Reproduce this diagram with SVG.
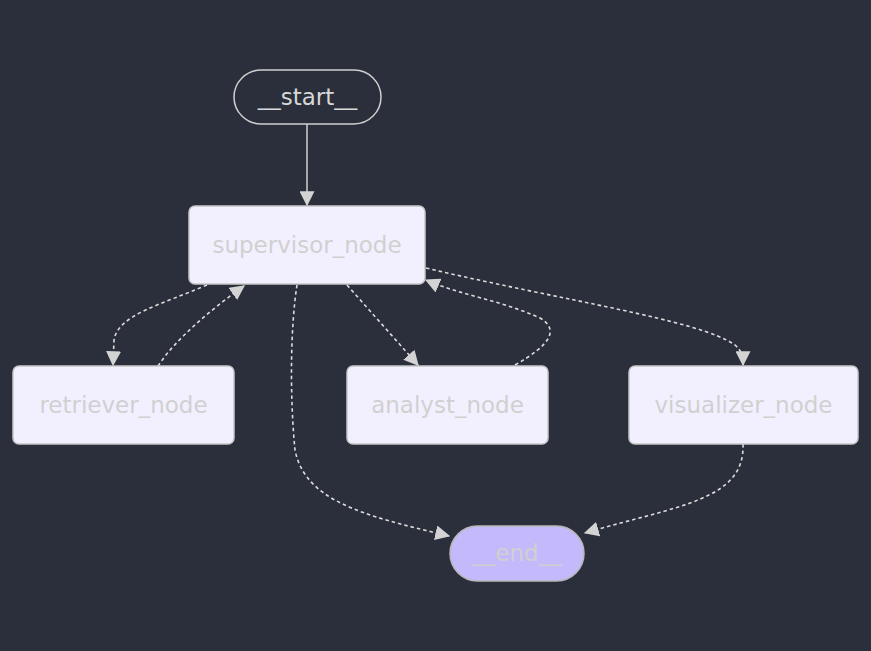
<svg xmlns="http://www.w3.org/2000/svg" width="871" height="651" viewBox="0 0 871 651">
<defs>
<marker id="arr" viewBox="0 0 12 12" refX="11" refY="6" markerWidth="15" markerHeight="15" markerUnits="userSpaceOnUse" orient="auto">
<path d="M0,0 L12,6 L0,12 Z" fill="#d3d3d3"/>
</marker>
<style>
.bg{fill:#2a2f3b}
.node rect{fill:#f2f0ff;stroke:#c8c8c8;stroke-width:1.5}
.node text{font-family:"DejaVu Sans","Open Sans",sans-serif;font-size:23px;fill:#d0d0d0;text-anchor:middle;dominant-baseline:central}
#start rect{fill:#2a2f3b;stroke:#cfcfcf}
#start text{fill:#d8d8d8}
#end rect{fill:#c3b9fb;stroke:#b8b8b8}
.e{fill:none;stroke:#dcdcdc;stroke-width:1.6;stroke-dasharray:3.5 3}
.e,.s{marker-end:url(#arr)}
.s{fill:none;stroke:#dcdcdc;stroke-width:1.4}
</style>
</defs>
<rect class="bg" x="0" y="0" width="871" height="651"/>
<g id="edges">
<path class="s" d="M307,124 L307,205"/>
<path class="e" d="M207,285 C160,305 118,315 114,340 L113,365"/>
<path class="e" d="M158,366 C175,340 210,310 244,286"/>
<path class="e" d="M347,285 L418,365"/>
<path class="e" d="M515,365 C550,345 560,330 540,318 C500,300 460,295 426,280"/>
<path class="e" d="M426,268 C560,300 700,320 735,345 C743,352 743,358 743,365"/>
<path class="e" d="M297,285 C290,330 290,400 295,450 C305,500 360,515 449,536"/>
<path class="e" d="M743,444 C745,500 680,505 585,533"/>
</g>
<g id="start" class="node"><rect x="234" y="70" width="147" height="54" rx="27"/><text x="307.5" y="97">__start__</text></g>
<g id="supervisor_node" class="node"><rect x="189" y="206" width="236" height="78" rx="6"/><text x="307" y="245">supervisor_node</text></g>
<g id="retriever_node" class="node"><rect x="13" y="366" width="221" height="78" rx="6"/><text x="123.5" y="405">retriever_node</text></g>
<g id="analyst_node" class="node"><rect x="347" y="366" width="201" height="78" rx="6"/><text x="447.5" y="405">analyst_node</text></g>
<g id="visualizer_node" class="node"><rect x="629" y="366" width="229" height="78" rx="6"/><text x="743.5" y="405">visualizer_node</text></g>
<g id="end" class="node"><rect x="450" y="526" width="134" height="55" rx="27.5"/><text x="517" y="553">__end__</text></g>
</svg>
